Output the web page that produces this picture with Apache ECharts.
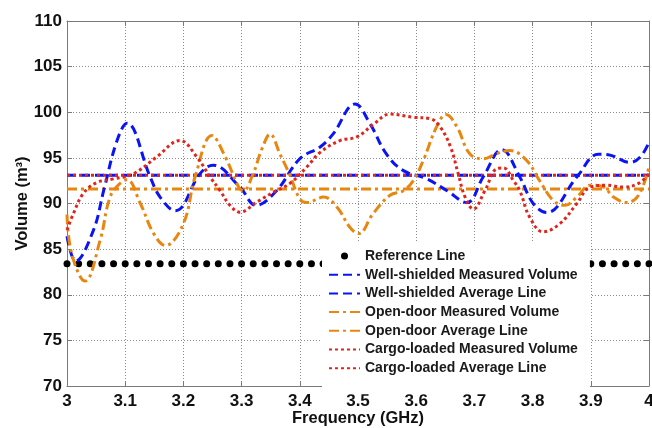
<!DOCTYPE html>
<html>
<head>
<meta charset="utf-8">
<script src="https://cdn.jsdelivr.net/npm/echarts@6/dist/echarts.min.js"></script>
<style>
  html, body { margin: 0; padding: 0; background: #fff; }
  #chart { width: 652px; height: 428px; }
</style>
</head>
<body>
<div id="chart"></div>
<script>
// axis ranges / ticks
const xMin = 3, xMax = 4, xStep = 0.1;
const yMin = 70, yMax = 110, yStep = 5;

// reference line (dots every 0.02 GHz)
const refLevel = 83.4;
const refFreq = [];
for (let i = 0; i <= 50; i++) refFreq.push(+(3 + i * 0.02).toFixed(2));

// well-shielded measured volume
const wellFreq = [3.000, 3.015, 3.045, 3.063, 3.086, 3.103, 3.143, 3.160, 3.186, 3.229, 3.251, 3.297, 3.325, 3.360, 3.400, 3.435, 3.457, 3.495, 3.521, 3.549, 3.578, 3.618, 3.653, 3.687, 3.715, 3.747, 3.778, 3.801, 3.824, 3.876, 3.913, 3.933, 3.967, 3.985, 4.000];
const wellVol = [86.4, 83.7, 87.0, 91.4, 96.9, 98.8, 92.9, 90.7, 89.2, 93.3, 94.2, 91.8, 89.8, 91.4, 94.9, 96.2, 97.6, 100.9, 98.7, 95.4, 93.6, 92.7, 91.4, 90.1, 92.9, 95.9, 92.9, 90.0, 89.0, 92.9, 95.4, 95.3, 94.5, 95.1, 96.7];
const wellAvg = 93.1;

// open-door measured volume
const openFreq = [3.000, 3.008, 3.031, 3.057, 3.074, 3.091, 3.103, 3.126, 3.149, 3.169, 3.200, 3.220, 3.249, 3.272, 3.295, 3.303, 3.320, 3.335, 3.349, 3.366, 3.383, 3.400, 3.412, 3.441, 3.464, 3.486, 3.501, 3.526, 3.555, 3.578, 3.595, 3.612, 3.635, 3.651, 3.670, 3.692, 3.715, 3.738, 3.761, 3.790, 3.812, 3.836, 3.856, 3.876, 3.899, 3.922, 3.939, 3.962, 3.982, 4.000];
const openVol = [88.8, 84.5, 81.5, 86.0, 90.7, 92.2, 92.6, 90.0, 86.7, 85.4, 87.8, 92.9, 97.45, 95.1, 91.8, 91.4, 93.3, 96.0, 97.6, 95.4, 93.1, 90.5, 90.1, 90.7, 89.6, 87.4, 86.7, 88.9, 90.9, 91.4, 92.5, 94.7, 98.4, 99.75, 98.4, 95.45, 94.9, 95.45, 95.8, 94.7, 92.5, 90.3, 89.8, 90.7, 92.0, 91.8, 90.7, 90.1, 90.9, 94.0];
const openAvg = 91.6;

// cargo-loaded measured volume
const cargoFreq = [3.000, 3.011, 3.028, 3.051, 3.080, 3.114, 3.154, 3.194, 3.223, 3.246, 3.263, 3.280, 3.297, 3.326, 3.355, 3.383, 3.412, 3.435, 3.469, 3.498, 3.527, 3.555, 3.595, 3.624, 3.641, 3.659, 3.672, 3.684, 3.698, 3.718, 3.738, 3.750, 3.767, 3.778, 3.795, 3.818, 3.847, 3.876, 3.899, 3.927, 3.956, 3.982, 4.000];
const cargoVol = [87.1, 88.9, 91.1, 92.3, 92.7, 93.25, 95.1, 96.9, 95.1, 92.9, 91.4, 89.8, 89.05, 90.15, 91.25, 92.2, 94.0, 95.6, 96.9, 97.3, 98.7, 99.8, 99.45, 99.3, 98.4, 96.2, 93.3, 90.7, 89.4, 91.4, 93.8, 93.9, 92.5, 91.4, 88.5, 86.9, 87.8, 90.0, 91.8, 92.0, 91.8, 92.2, 93.25];
const cargoAvg = 93.1;

const BLUE = '#0a14f5', ORANGE = '#e8860f', RED = '#e0261c';
const FONT = 'Arial, "Liberation Sans", sans-serif';

const zip = (xs, ys) => xs.map((x, i) => [x, ys[i]]);
const flat = v => [[xMin, v], [xMax, v]];

const chart = echarts.init(document.getElementById('chart'));

const gridLine = { show: true, lineStyle: { color: '#8c8c8c', type: [1, 2], width: 1 } };
const frame = { show: true, lineStyle: { color: '#7a7a7a', width: 1 } };
const tick = { inside: true, length: 5, lineStyle: { color: '#7a7a7a' } };
const labelFont = { fontFamily: FONT, fontWeight: 'bold', fontSize: 17, color: '#111' };
const nameFont = { fontFamily: FONT, fontWeight: 'bold', fontSize: 16.5, color: '#111' };

const option = {
  backgroundColor: '#fff',
  animation: false,
  grid: { left: 67, right: 3, top: 21, bottom: 42, outerBoundsMode: 'none', containLabel: false },
  xAxis: [
    {
      type: 'value', min: xMin, max: xMax, interval: xStep,
      name: 'Frequency (GHz)', nameLocation: 'middle', nameGap: 24, nameMoveOverlap: false,
      nameTextStyle: nameFont,
      axisLine: frame, axisTick: tick,
      axisLabel: Object.assign({ margin: 7 }, labelFont),
      splitLine: gridLine
    },
    {
      type: 'value', min: xMin, max: xMax, interval: xStep, position: 'top',
      axisLine: frame, axisTick: tick,
      axisLabel: { show: false }, splitLine: { show: false }
    }
  ],
  yAxis: [
    {
      type: 'value', min: yMin, max: yMax, interval: yStep,
      name: 'Volume (m³)', nameLocation: 'middle', nameGap: 36, nameRotate: 90, nameMoveOverlap: false,
      nameTextStyle: nameFont,
      axisLine: frame, axisTick: tick,
      axisLabel: Object.assign({ margin: 5 }, labelFont),
      splitLine: gridLine
    },
    {
      type: 'value', min: yMin, max: yMax, interval: yStep, position: 'right',
      axisLine: frame, axisTick: tick,
      axisLabel: { show: false }, splitLine: { show: false }
    }
  ],
  legend: {
    orient: 'vertical',
    left: 322, top: 243,
    padding: [6, 12, 19, 6],
    backgroundColor: '#fff',
    itemWidth: 31, itemHeight: 7, itemGap: 4.7,
    // hide the marker that line series put in the middle of their legend icon
    itemStyle: { opacity: 0 },
    textStyle: { fontFamily: FONT, fontWeight: 'bold', fontSize: 14, color: '#1a1a1a', lineHeight: 14 },
    data: [
      { name: 'Reference Line', itemStyle: { opacity: 1 } },
      'Well-shielded Measured Volume',
      'Well-shielded Average Line',
      'Open-door Measured Volume',
      'Open-door Average Line',
      'Cargo-loaded Measured Volume',
      'Cargo-loaded Average Line'
    ]
  },
  series: [
    {
      name: 'Reference Line', type: 'scatter',
      data: refFreq.map(f => [f, refLevel]),
      symbol: 'circle', symbolSize: 7,
      itemStyle: { color: '#000', opacity: 1 }, z: 1
    },
    {
      name: 'Well-shielded Measured Volume', type: 'line', smooth: 0.4, symbol: 'none',
      data: zip(wellFreq, wellVol),
      lineStyle: { color: BLUE, width: 3, type: [9, 5] }, itemStyle: { color: BLUE }, z: 3
    },
    {
      name: 'Well-shielded Average Line', type: 'line', symbol: 'none',
      data: flat(wellAvg),
      lineStyle: { color: BLUE, width: 3, type: [9, 5] }, itemStyle: { color: BLUE }, z: 2
    },
    {
      name: 'Open-door Measured Volume', type: 'line', smooth: 0.4, symbol: 'none',
      data: zip(openFreq, openVol),
      lineStyle: { color: ORANGE, width: 3, type: [10, 4, 3, 4] }, itemStyle: { color: ORANGE }, z: 3
    },
    {
      name: 'Open-door Average Line', type: 'line', symbol: 'none',
      data: flat(openAvg),
      lineStyle: { color: ORANGE, width: 3, type: [10, 4, 3, 4] }, itemStyle: { color: ORANGE }, z: 2
    },
    {
      name: 'Cargo-loaded Measured Volume', type: 'line', smooth: 0.4, symbol: 'none',
      data: zip(cargoFreq, cargoVol),
      lineStyle: { color: RED, width: 3, type: [3, 3] }, itemStyle: { color: RED }, z: 3
    },
    {
      name: 'Cargo-loaded Average Line', type: 'line', symbol: 'none',
      data: flat(cargoAvg),
      lineStyle: { color: RED, width: 3, type: [3, 3] }, itemStyle: { color: RED }, z: 2.5
    }
  ]
};

chart.setOption(option);
window.addEventListener('resize', () => {
  chart.resize()
})
</script>
</body>
</html>
